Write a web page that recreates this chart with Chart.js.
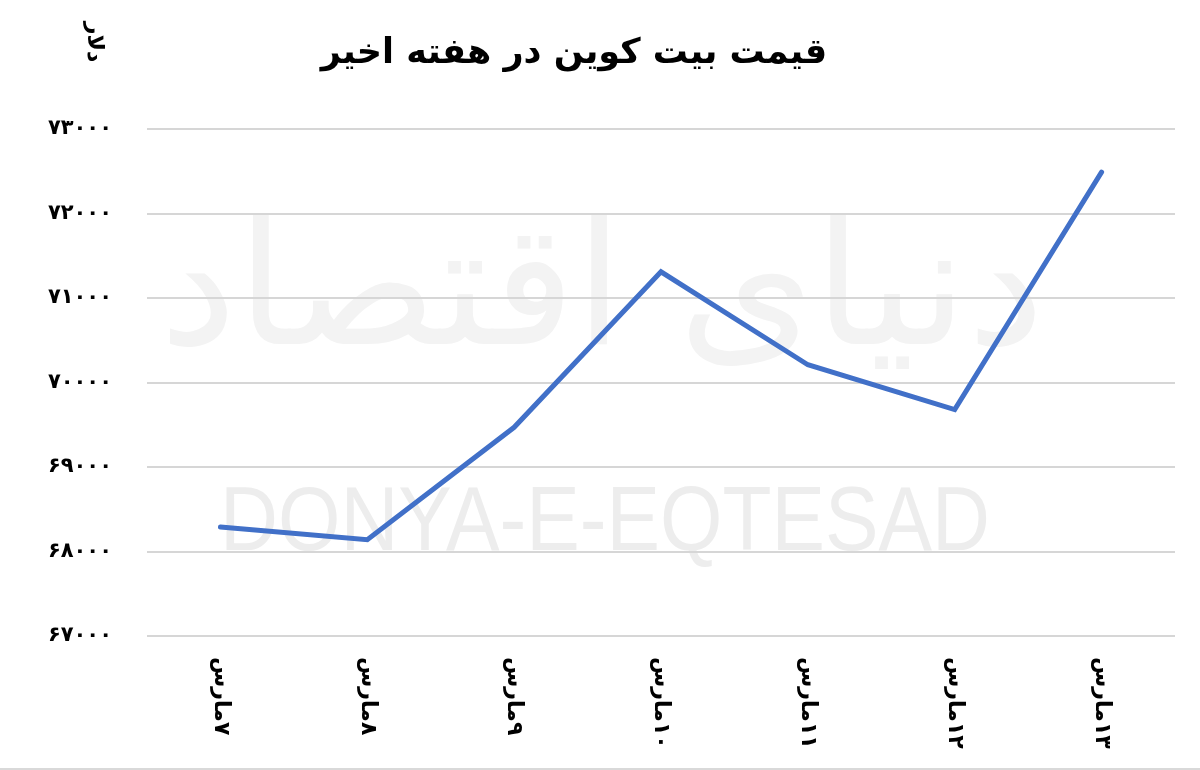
<!DOCTYPE html>
<html>
<head>
<meta charset="utf-8">
<script src="https://cdn.jsdelivr.net/npm/chart.js@4.4.1/dist/chart.umd.min.js"></script>
<style>
  html, body { margin: 0; padding: 0; background: #fff; }
  #wrap { position: relative; width: 1200px; height: 770px; }
  #wrap:after { content: ''; position: absolute; left: 0; right: 0; bottom: 0; height: 2px; background: #d9d9d9; }
</style>
</head>
<body>
<div id="wrap"><canvas id="myChart" width="1200" height="770"></canvas></div>
<script>
const titulo = 'قیمت بیت کوین در هفته اخیر'
const unidade = 'دلار'
const dias = ['۷مارس', '۸مارس', '۹مارس', '۱۰مارس', '۱۱مارس', '۱۲مارس', '۱۳مارس']
const precos = [68290, 68140, 69470, 71310, 70210, 69680, 72490]
const eixoY = [67000, 68000, 69000, 70000, 71000, 72000, 73000]

const fa = n => String(n).replace(/[0-9]/g, d => '۰۱۲۳۴۵۶۷۸۹'[d])
const fonte = '"DejaVu Sans", sans-serif'

// marca d'agua + titulo + rotulos verticais
const extras = {
  id: 'extras',
  beforeDraw(chart) {
    const ctx = chart.ctx
    ctx.save()
    ctx.fillStyle = '#f3f3f3'
    ctx.direction = 'rtl'
    ctx.textAlign = 'center'
    ctx.textBaseline = 'middle'
    ctx.font = '170px ' + fonte
    let w = ctx.measureText('دنیای اقتصاد').width
    ctx.translate(602, 300)
    ctx.scale(885 / w, 1)
    ctx.fillText('دنیای اقتصاد', 0, 0)
    ctx.restore()

    ctx.save()
    ctx.fillStyle = '#ededed'
    ctx.textAlign = 'center'
    ctx.textBaseline = 'alphabetic'
    ctx.font = '91px "Liberation Sans", Arial, sans-serif'
    w = ctx.measureText('DONYA-E-EQTESAD').width
    ctx.translate(605, 550)
    ctx.scale(770 / w, 1)
    ctx.fillText('DONYA-E-EQTESAD', 0, 0)
    ctx.restore()
  },
  afterDraw(chart) {
    const ctx = chart.ctx
    const x = chart.scales.x
    ctx.save()
    ctx.fillStyle = '#000'
    ctx.direction = 'rtl'
    ctx.textBaseline = 'middle'

    ctx.textAlign = 'center'
    ctx.font = 'bold 35px ' + fonte
    ctx.fillText(titulo, 574, 54)

    ctx.font = 'bold 22px ' + fonte
    ctx.textAlign = 'left'
    dias.forEach((d, i) => {
      ctx.save()
      ctx.translate(x.getPixelForValue(i), 657)
      ctx.rotate(Math.PI / 2)
      ctx.fillText(d, 0, 0)
      ctx.restore()
    })

    ctx.font = 'bold 22px ' + fonte
    ctx.textAlign = 'center'
    ctx.translate(94, 42)
    ctx.rotate(Math.PI / 2)
    ctx.fillText(unidade, 0, 0)
    ctx.restore()
  }
}

const ctx = document.getElementById('myChart').getContext('2d')

new Chart(ctx, {
  type: 'line',
  data: {
    labels: dias,
    datasets: [{
      label: titulo,
      data: precos,
      borderColor: '#4170c8',
      borderWidth: 5,
      pointRadius: 0,
      tension: 0,
      borderCapStyle: 'round',
      borderJoinStyle: 'miter'
    }]
  },
  options: {
    responsive: false,
    animation: false,
    layout: { padding: { top: 129, right: 25, left: 0, bottom: 0 } },
    plugins: {
      legend: { display: false },
      tooltip: { enabled: false }
    },
    scales: {
      x: {
        offset: true,
        grid: { display: false },
        border: { display: false },
        ticks: { display: false },
        afterFit: s => { s.height = 134 }
      },
      y: {
        min: eixoY[0],
        max: eixoY[eixoY.length - 1],
        afterBuildTicks: s => { s.ticks = eixoY.map(v => ({ value: v })) },
        grid: { color: '#d6d6d6', lineWidth: 2, drawTicks: false },
        border: { display: false },
        ticks: {
          padding: 35,
          color: '#000',
          font: { family: fonte, size: 21, weight: 'bold' },
          callback: v => fa(v)
        },
        afterFit: s => { s.width = 147 }
      }
    }
  },
  plugins: [extras]
})
</script>
</body>
</html>
